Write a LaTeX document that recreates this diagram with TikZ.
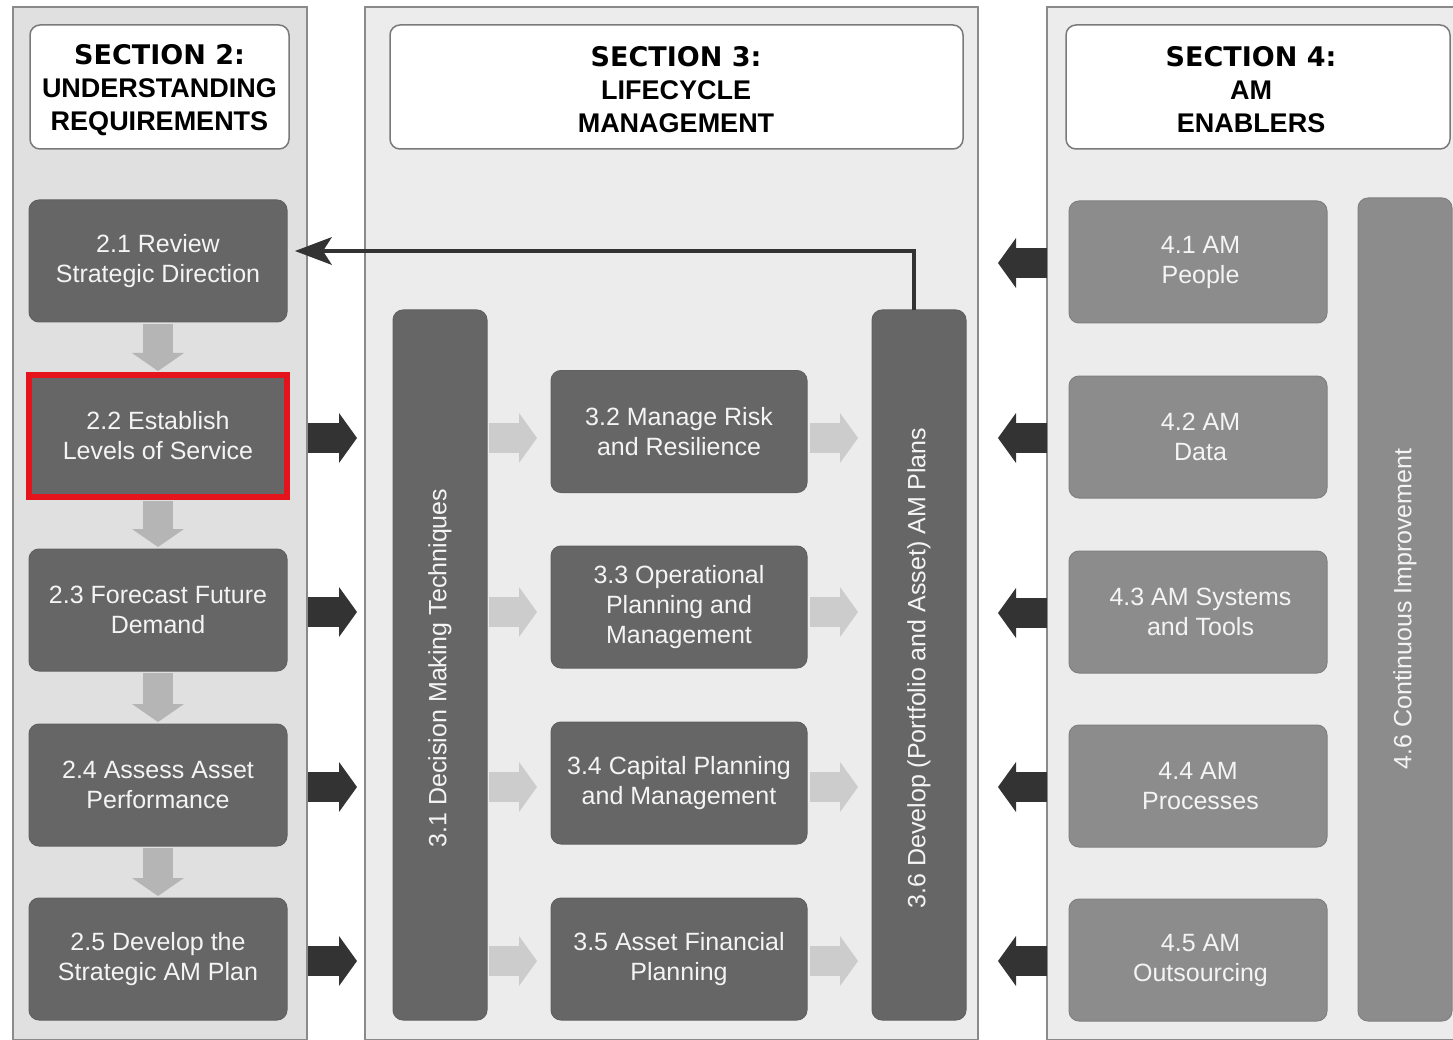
\documentclass[tikz,border=0pt]{standalone}
\usepackage{fontspec}
\setmainfont{Liberation Sans}
\newfontfamily\hdfont{DejaVu Sans}
\usetikzlibrary{arrows.meta}
\definecolor{pnltwo}{HTML}{E0E0E0}
\definecolor{pnl}{HTML}{ECECEC}
\definecolor{pbord}{HTML}{8A8A8A}
\definecolor{hbord}{HTML}{7A7A7A}
\definecolor{dbox}{HTML}{666666}
\definecolor{gbox}{HTML}{8C8C8C}
\definecolor{darr}{HTML}{333333}
\definecolor{larr}{HTML}{CCCCCC}
\definecolor{marr}{HTML}{B5B5B5}
\definecolor{redb}{HTML}{E5131B}
\definecolor{txtw}{HTML}{F4F4F4}
\begin{document}
\begin{tikzpicture}[x=1pt,y=-1pt,
  panel/.style={draw=pbord, line width=2pt, inner sep=0pt, outer sep=0pt},
  header/.style={draw=hbord, fill=white, rounded corners=10pt, line width=1.5pt,
    inner sep=0pt, minimum height=124pt},
  headtext/.style={align=center, inner sep=0pt,
    font=\fontsize{27}{33}\selectfont\bfseries},
  boxbase/.style={rounded corners=10pt, text=txtw, align=center, inner sep=0pt,
    outer sep=0pt, line width=1pt, font=\fontsize{25}{30}\selectfont},
  darkbox/.style={boxbase, fill=dbox, draw=black!62, minimum width=258pt, minimum height=122pt},
  midbox/.style={boxbase, fill=dbox, draw=black!62, minimum width=256pt, minimum height=122pt},
  greybox/.style={boxbase, fill=gbox, draw=black!50, minimum width=258pt, minimum height=122pt},
  darkbar/.style={boxbase, fill=dbox, draw=black!62, minimum width=94pt},
  greybar/.style={boxbase, fill=gbox, draw=black!50, minimum width=94pt},
  bartext/.style={rotate=90, text=txtw, inner sep=0pt, font=\fontsize{25}{30}\selectfont},
  redframe/.style={draw=redb, line width=5.5pt, rounded corners=0pt},
  darkarrow/.style={draw=darr, line width=30pt, -{Triangle[length=18pt,width=50pt,line width=0pt]}},
  lightarrow/.style={draw=larr, line width=30pt, -{Triangle[length=18pt,width=50pt,line width=0pt]}},
  downarrow/.style={draw=marr, line width=30pt, -{Triangle[length=18pt,width=52pt,line width=0pt]}},
  feedback/.style={draw=darr, line width=4pt, -{Stealth[length=37pt,width=28pt,inset=9pt,line width=0pt]}}
]
\useasboundingbox (0,0) rectangle (1453,1040);
\fill[white] (0,0) rectangle (1453,1040);
\clip (0,0) rectangle (1453,1040);

% panels
\node[panel, fill=pnltwo, minimum width=294pt, minimum height=1033pt] (p2) at (160,523.5) {};
\node[panel, fill=pnl, minimum width=613pt, minimum height=1033pt] (p3) at (671.5,523.5) {};
\node[panel, fill=pnl, minimum width=423pt, minimum height=1033pt] (p4) at (1258.5,523.5) {};

% headers
\node[header, minimum width=259pt] (h2) at (159.5,87) {};
\node[headtext] (h2t) at (159.5,90) {{\hdfont SECTION 2:}\\UNDERSTANDING\\REQUIREMENTS};
\node[header, minimum width=573pt] (h3) at (676.5,87) {};
\node[headtext] (h3t) at (676,90) {{\hdfont SECTION 3:}\\LIFECYCLE\\MANAGEMENT};
\node[header, minimum width=384pt] (h4) at (1258,87) {};
\node[headtext] (h4t) at (1251,90) {{\hdfont SECTION 4:}\\AM\\ENABLERS};

% section 2 boxes
\node[darkbox] (b21) at (158,261) {2.1 Review\\Strategic Direction};
\node[darkbox, rounded corners=0pt, draw=none] (b22) at (158,436) {2.2 Establish\\Levels of Service};
\draw[redframe] (b22.north west) rectangle (b22.south east);
\node[darkbox] (b23) at (158,610) {2.3 Forecast Future\\Demand};
\node[darkbox] (b24) at (158,785) {2.4 Assess Asset\\Performance};
\node[darkbox] (b25) at (158,959) {2.5 Develop the\\Strategic AM Plan};

% section 3
\node[darkbar, minimum height=710pt] (b31) at (440,665) {};
\node[bartext] (t31) at (440,668) {3.1 Decision Making Techniques};
\node[midbox] (b32) at (679,431.5) {3.2 Manage Risk\\and Resilience};
\node[midbox] (b33) at (679,607) {3.3 Operational\\Planning and\\Management};
\node[midbox] (b34) at (679,783) {3.4 Capital Planning\\and Management};
\node[midbox] (b35) at (679,959) {3.5 Asset Financial\\Planning};
\node[darkbar, minimum height=710pt] (b36) at (919,665) {};
\node[bartext] (t36) at (919,668) {3.6 Develop (Portfolio and Asset) AM Plans};

% section 4
\node[greybox] (b41) at (1198,262) {\hspace*{5pt}4.1 AM\\\hspace*{5pt}People};
\node[greybox] (b42) at (1198,437) {\hspace*{5pt}4.2 AM\\\hspace*{5pt}Data};
\node[greybox] (b43) at (1198,612) {\hspace*{5pt}4.3 AM Systems\\\hspace*{5pt}and Tools};
\node[greybox] (b44) at (1198,786) {4.4 AM\\\hspace*{5pt}Processes};
\node[greybox] (b45) at (1198,960) {\hspace*{5pt}4.5 AM\\\hspace*{5pt}Outsourcing};
\node[greybar, minimum height=823pt] (b46) at (1405,609.5) {};
\node[bartext] (t46) at (1405,609) {4.6 Continuous Improvement};

% down arrows in section 2
\draw[downarrow, shorten <=2pt, shorten >=4pt] (b21.south) -- (b22.north);
\draw[downarrow, shorten <=4pt, shorten >=2pt] (b22.south) -- (b23.north);
\draw[downarrow, shorten <=2pt, shorten >=2pt] (b23.south) -- (b24.north);
\draw[downarrow, shorten <=2pt, shorten >=2pt] (b24.south) -- (b25.north);

% dark arrows section 2 -> section 3
\foreach \b in {b22,b23,b24,b25}{
  \draw[darkarrow, shorten <=1pt, shorten >=8pt] ([yshift=-2pt]p2.east |- \b) -- ([yshift=-2pt]p3.west |- \b);
}
% light arrows in section 3
\foreach \b/\m in {b22/b32,b23/b33,b24/b34,b25/b35}{
  \draw[lightarrow, shorten <=2pt, shorten >=14pt] ([yshift=-2pt]b31.east |- \b) -- ([yshift=-2pt]\m.west |- \b);
  \draw[lightarrow, shorten <=3pt, shorten >=14pt] ([yshift=-2pt]\m.east |- \b) -- ([yshift=-2pt]b36.west |- \b);
}
% dark arrows section 4 -> section 3
\foreach \b in {b41,b42,b43,b44,b45}{
  \draw[darkarrow, shorten <=0pt, shorten >=20pt] ([yshift=-1pt]p4.west |- \b) -- ([yshift=-1pt]p3.east |- \b);
}

% feedback arrow
\draw[feedback] ([xshift=-5pt]b36.north) |- ([xshift=8pt,yshift=10pt]b21.east);
\end{tikzpicture}
\end{document}
